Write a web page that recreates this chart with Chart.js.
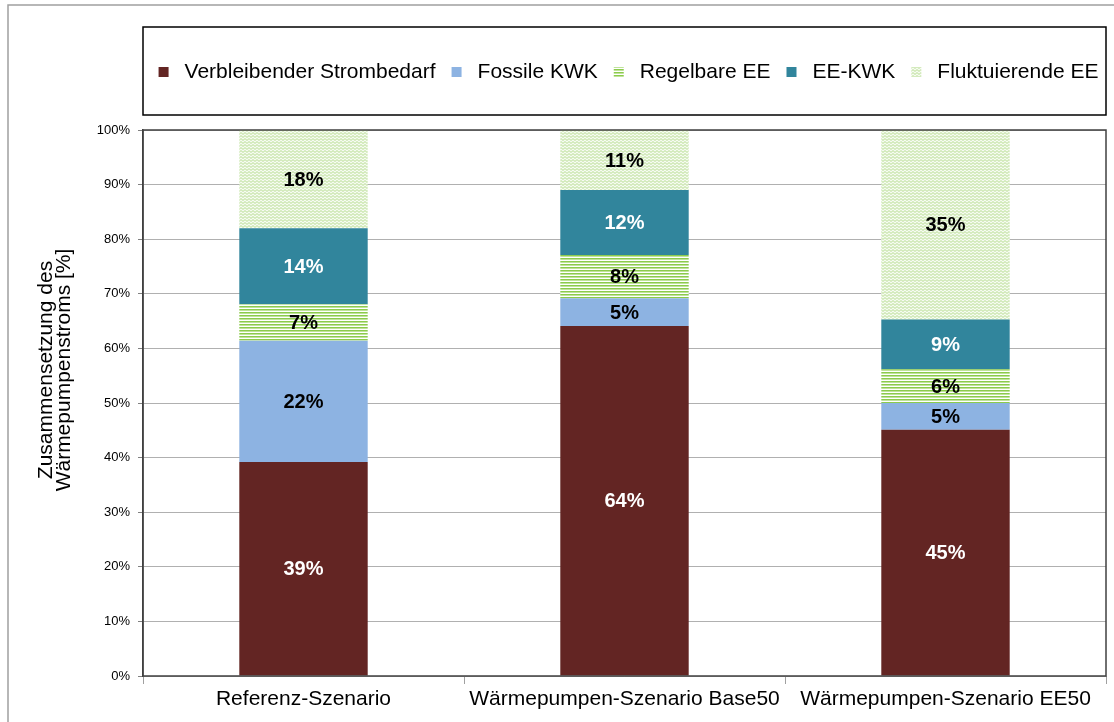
<!DOCTYPE html>
<html>
<head>
<meta charset="utf-8">
<script src="https://cdn.jsdelivr.net/npm/chart.js@4/dist/chart.umd.min.js"></script>
<style>
  html, body { margin: 0; padding: 0; background: #fff; }
  #wrap { width: 1114px; height: 722px; position: relative; }
</style>
</head>
<body>
<div id="wrap"><canvas id="chart"></canvas></div>
<script>
const categories = ["Referenz-Szenario", "Wärmepumpen-Szenario Base50", "Wärmepumpen-Szenario EE50"];
const seriesNames = ["Verbleibender Strombedarf", "Fossile KWK", "Regelbare EE", "EE-KWK", "Fluktuierende EE"];
const strombedarf = [39.2, 64.1, 45.1];
const fossileKwk = [22.2, 5.1, 4.9];
const regelbareEe = [6.7, 7.9, 6.2];
const eeKwk = [13.9, 11.9, 9.1];
const fluktuierendeEe = [18.0, 11.0, 34.7];
const yTitle = ["Zusammensetzung des", "Wärmepumpenstroms [%]"];

const FONT = "'Liberation Sans', Arial, sans-serif";

function stripePattern() {
  const c = document.createElement("canvas");
  c.width = 4; c.height = 3;
  const g = c.getContext("2d");
  g.fillStyle = "#ffffff"; g.fillRect(0, 0, 4, 3);
  g.fillStyle = "#8ccb4c"; g.fillRect(0, 0, 4, 1);
  g.fillStyle = "#bfe39a"; g.fillRect(0, 1, 4, 1);
  return g.createPattern(c, "repeat");
}

function wavePattern() {
  const c = document.createElement("canvas");
  c.width = 4; c.height = 3;
  const g = c.getContext("2d");
  g.fillStyle = "#f6fbf1"; g.fillRect(0, 0, 4, 3);
  g.strokeStyle = "#b2da8a";
  g.lineWidth = 1;
  g.beginPath();
  g.moveTo(-1, 2.5); g.lineTo(1, 0.5); g.lineTo(3, 2.5); g.lineTo(5, 0.5);
  g.stroke();
  return g.createPattern(c, "repeat");
}

const fills = ["#632523", "#8db3e2", stripePattern(), "#31859c", wavePattern()];
const labelColors = ["#ffffff", "#000000", "#000000", "#ffffff", "#000000"];
const seriesData = [strombedarf, fossileKwk, regelbareEe, eeKwk, fluktuierendeEe];

const framePlugin = {
  id: "frame",
  beforeDraw(chart) {
    const ctx = chart.ctx;
    ctx.save();
    ctx.strokeStyle = "#a0a0a0";
    ctx.lineWidth = 1.5;
    ctx.strokeRect(8, 5, 1120, 730);

    // y axis title, two rotated lines
    ctx.font = "21px " + FONT;
    ctx.fillStyle = "#000000";
    ctx.textAlign = "center";
    ctx.textBaseline = "middle";
    yTitle.forEach((line, i) => {
      ctx.save();
      ctx.translate(46 + i * 18, 370);
      ctx.rotate(-Math.PI / 2);
      ctx.fillText(line, 0, 0);
      ctx.restore();
    });
    ctx.restore();
  },
  afterDatasetsDraw(chart) {
    const ctx = chart.ctx;
    const a = chart.chartArea;
    ctx.save();
    ctx.strokeStyle = "#404040";
    ctx.lineWidth = 1.5;
    ctx.strokeRect(a.left, a.top, a.right - a.left, a.bottom - a.top);

    // value labels
    ctx.font = "bold 20px " + FONT;
    ctx.textAlign = "center";
    ctx.textBaseline = "middle";
    chart.data.datasets.forEach((ds, i) => {
      const meta = chart.getDatasetMeta(i);
      meta.data.forEach((bar, j) => {
        const v = ds.data[j];
        ctx.fillStyle = labelColors[i];
        ctx.fillText(Math.round(v) + "%", bar.x, (bar.y + bar.base) / 2 + 1);
      });
    });

    // legend box
    const box = { l: a.left, t: 27, r: a.right, b: 115 };
    ctx.strokeStyle = "#000000";
    ctx.lineWidth = 1.5;
    ctx.strokeRect(box.l, box.t, box.r - box.l, box.b - box.t);
    ctx.font = "21px " + FONT;
    ctx.textAlign = "left";
    const mark = 10, gap = 16;
    const widths = seriesNames.map(n => ctx.measureText(n).width);
    let total = 0;
    widths.forEach(w => total += mark + gap + w);
    total += gap * (seriesNames.length - 1);
    let x = (box.l + box.r) / 2 - total / 2 + 4;
    const cy = (box.t + box.b) / 2 + 1;
    seriesNames.forEach((n, i) => {
      ctx.fillStyle = fills[i];
      ctx.fillRect(x, cy - mark / 2, mark, mark);
      x += mark + gap;
      ctx.fillStyle = "#000000";
      ctx.fillText(n, x, cy);
      x += widths[i] + gap;
    });
    ctx.restore();
  }
};

new Chart(document.getElementById("chart"), {
  type: "bar",
  data: {
    labels: categories,
    datasets: seriesNames.map((name, i) => ({
      label: name,
      data: seriesData[i],
      backgroundColor: fills[i],
      borderWidth: 0,
      barPercentage: 0.4,
      categoryPercentage: 1.0,
    })),
  },
  options: {
    responsive: true,
    maintainAspectRatio: false,
    animation: false,
    layout: { padding: { left: 0, top: 130, right: 8, bottom: 0 } },
    plugins: {
      legend: { display: false },
      tooltip: { enabled: false },
    },
    scales: {
      x: {
        stacked: true,
        afterFit(scale) { scale.height = 46; },
        grid: {
          display: true,
          drawOnChartArea: false,
          drawTicks: true,
          tickLength: 8,
          color: "#a0a0a0",
        },
        border: { display: false },
        ticks: {
          color: "#000000",
          font: { family: FONT, size: 21 },
          padding: 3,
          maxRotation: 0,
          autoSkip: false,
        },
      },
      y: {
        stacked: true,
        min: 0,
        max: 100,
        afterFit(scale) { scale.width = 143; },
        grid: {
          color: "#b0b0b0",
          lineWidth: 1,
          tickLength: 5,
          tickColor: "#808080",
        },
        border: { display: true, color: "#404040", width: 1.5 },
        ticks: {
          stepSize: 10,
          color: "#000000",
          font: { family: FONT, size: 13 },
          padding: 8,
          callback: v => v + "%",
        },
      },
    },
  },
  plugins: [framePlugin],
});
</script>
</body>
</html>
